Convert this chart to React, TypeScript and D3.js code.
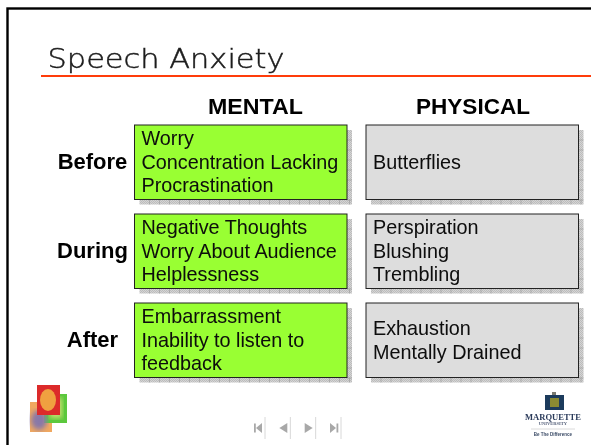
import React from "react";
import * as d3 from "d3";

const title = "Speech Anxiety";
const columns = ["MENTAL", "PHYSICAL"];
const rows = ["Before", "During", "After"];
const mentalItems = [
  ["Worry", "Concentration Lacking", "Procrastination"],
  ["Negative Thoughts", "Worry About Audience", "Helplessness"],
  ["Embarrassment", "Inability to listen to", "feedback"],
];
const physicalItems = [
  ["Butterflies"],
  ["Perspiration", "Blushing", "Trembling"],
  ["Exhaustion", "Mentally Drained"],
];
const fills = ["#99ff33", "#dddddd"];
const navButtons = ["first", "prev", "next", "last"];

const W = 591;
const H = 445;
const FONT = "'Liberation Sans', Arial, sans-serif";

export default function App() {
  const colW = 212.5;
  const xPos = d3.scaleOrdinal<number, number>().domain([0, 1]).range([134.5, 366]);
  const headX = d3.scaleOrdinal<number, number>().domain([0, 1]).range([208, 416]);
  const headLen = d3.scaleOrdinal<number, number>().domain([0, 1]).range([95, 114]);
  const yRow = d3.scaleLinear().domain([0, 1, 2]).range([125, 214, 303]);
  const rowH = 74.5;
  const lineH = 23.6;
  const gridStep = 10;
  const shadow = 5;

  const box = (c: number, r: number, lines: string[]) => {
    const x = xPos(c);
    const y = yRow(r);
    const ticks = d3.range(x + shadow + gridStep, x + colW + shadow, gridStep);
    const vticks = d3.range(y + shadow + gridStep, y + rowH + shadow, gridStep);
    const firstBase = y + rowH / 2 + 6.5 - ((lines.length - 1) * lineH) / 2;
    return (
      <g key={`${c}-${r}`}>
        <rect x={x + shadow} y={y + shadow} width={colW} height={rowH} fill="url(#dots)" />
        {ticks.map((t) => (
          <line key={t} x1={t} x2={t} y1={y + rowH} y2={y + rowH + shadow} stroke="#a0a0a0" strokeWidth={0.7} />
        ))}
        {vticks.map((t) => (
          <line key={t} y1={t} y2={t} x1={x + colW} x2={x + colW + shadow} stroke="#a0a0a0" strokeWidth={0.7} />
        ))}
        <rect x={x} y={y} width={colW} height={rowH} fill={fills[c]} stroke="#222" strokeWidth={1} />
        {lines.map((l, i) => (
          <text key={i} x={x + 7} y={firstBase + i * lineH} fontFamily={FONT} fontSize={19.8} fill="#0a0a0a" filter="url(#soft)">
            {l}
          </text>
        ))}
      </g>
    );
  };

  const navX = d3.scaleLinear().domain([0, 3]).range([259, 335]);

  return (
    <svg
      width={W}
      height={H}
      viewBox={`0 0 ${W} ${H}`}
      style={{ position: "fixed", left: 0, top: 0, background: "#fff" }}
    >
      <defs>
        <pattern id="dots" width={2} height={2} patternUnits="userSpaceOnUse">
          <rect width={2} height={2} fill="#d4d4d4" />
          <rect width={1} height={1} fill="#bcbcbc" />
          <rect x={1} y={1} width={1} height={1} fill="#bcbcbc" />
        </pattern>
        <filter id="soft" x="-5%" y="-20%" width="110%" height="140%"><feGaussianBlur stdDeviation={0.25} /></filter>
        <filter id="b1"><feGaussianBlur stdDeviation={0.7} /></filter>
        <filter id="b2"><feGaussianBlur stdDeviation={2.5} /></filter>
        <filter id="b3" x="-30%" y="-30%" width="160%" height="160%"><feGaussianBlur stdDeviation={0.55} /></filter>
      </defs>

      <rect x={7.5} y={8.5} width={700} height={500} fill="none" stroke="#000" strokeWidth={2.4} />
      <line x1={41} x2={W} y1={76} y2={76} stroke="#ff3c0a" strokeWidth={2.2} />
      <text x={47.5} y={67.5} fontFamily="'DejaVu Sans', sans-serif" fontWeight={200} fontSize={27} textLength={237} lengthAdjust="spacingAndGlyphs" fill="#1c1c1c" stroke="#1c1c1c" strokeWidth={0.45} filter="url(#soft)">
        {title}
      </text>

      {columns.map((c, i) => (
        <text key={c} x={headX(i)} y={113.5} textLength={headLen(i)} lengthAdjust="spacingAndGlyphs" fontFamily={FONT} fontWeight={700} fontSize={21.5} fill="#000" filter="url(#soft)">
          {c}
        </text>
      ))}
      {rows.map((r, i) => (
        <text key={r} x={92.5} y={yRow(i) + rowH / 2 + 7} textAnchor="middle" fontFamily={FONT} fontWeight={700} fontSize={22} fill="#000" filter="url(#soft)">
          {r}
        </text>
      ))}

      {mentalItems.map((lines, r) => box(0, r, lines))}
      {physicalItems.map((lines, r) => box(1, r, lines))}

      <g>
        <rect x={30} y={402} width={22} height={30} fill="#f0a860" filter="url(#b1)" />
        <rect x={44} y={394} width={23} height={29} fill="#5cc83c" filter="url(#b1)" />
        <rect x={50} y={398} width={12} height={20} fill="#c8e070" filter="url(#b2)" />
        <ellipse cx={39} cy={420} rx={8} ry={10} fill="#8878a8" filter="url(#b2)" />
        <rect x={37} y={385} width={23} height={30} fill="#dc2a2a" filter="url(#b1)" />
        <ellipse cx={48} cy={400} rx={8} ry={11} fill="#f0a040" filter="url(#b1)" />
      </g>

      {navButtons.map((n, i) => {
        const x = navX(i);
        const y = 428;
        const c = "#a8a8a8";
        return (
          <g key={n} filter="url(#b3)">
            <line x1={x + 6} x2={x + 6} y1={417} y2={439} stroke="#d8d8d8" strokeWidth={1} />
            {i === 0 && <rect x={x - 5} y={y - 4.5} width={1.8} height={9} fill={c} />}
            {i === 3 && <rect x={x + 1.5} y={y - 4.5} width={1.8} height={9} fill={c} />}
            {i < 2 ? (
              <path d={`M${x - 5 + (i === 0 ? 2 : 0)},${y} L${x + 3},${y - 5} L${x + 3},${y + 5} Z`} fill={c} />
            ) : (
              <path d={`M${x - 5},${y - 5} L${x + 3 - (i === 3 ? 2 : 0)},${y} L${x - 5},${y + 5} Z`} fill={c} />
            )}
          </g>
        );
      })}

      <g>
        <rect x={545} y={395} width={19} height={15} fill="#1f3a5c" filter="url(#b3)" />
        <rect x={550} y={398} width={9} height={9} fill="#8a8a30" filter="url(#b3)" />
        <rect x={552} y={392} width={4} height={3} fill="#7a7a70" filter="url(#b3)" />
        <text x={553} y={420} textAnchor="middle" fontFamily="'Liberation Serif', serif" fontSize={9} fontWeight={700} fill="#2a3a5a" filter="url(#b3)" textLength={56} lengthAdjust="spacingAndGlyphs">MARQUETTE</text>
        <text x={553} y={425} textAnchor="middle" fontFamily="'Liberation Serif', serif" fontSize={4.5} fontWeight={700} fill="#55607a" filter="url(#b3)">UNIVERSITY</text>
        <line x1={531} x2={575} y1={429} y2={429} stroke="#d0d0d0" strokeWidth={0.8} />
        <text x={553} y={436} textAnchor="middle" fontFamily={FONT} fontSize={4.5} fontWeight={700} fill="#3a4a66" filter="url(#b3)">Be The Difference</text>
      </g>
    </svg>
  );
}
